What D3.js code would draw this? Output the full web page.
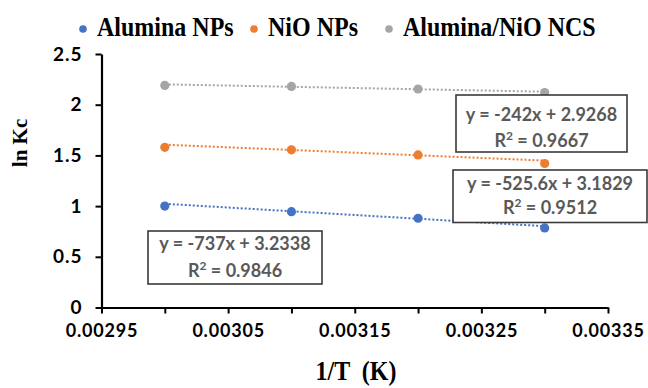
<!DOCTYPE html>
<html>
<head>
<meta charset="utf-8">
<script src="https://cdn.jsdelivr.net/npm/d3@7"></script>
<style>
  html, body { margin: 0; padding: 0; background: #fff; }
  svg { display: block; }
</style>
</head>
<body>
<svg id="chart" width="648" height="388"></svg>
<script>
// Inverse temperature (1/T) and ln Kc for each adsorbent
const invT = [0.0030, 0.0031, 0.0032, 0.0033];
const seriesNames = ["Alumina NPs", "NiO NPs", "Alumina/NiO NCS"];
const aluminaLnKc = [1.00, 0.945, 0.88, 0.785];
const nioLnKc = [1.58, 1.555, 1.505, 1.42];
const compositeLnKc = [2.19, 2.18, 2.155, 2.12];
// Linear fits: ln Kc = slope * (1/T) + intercept
const fitSlopes = [-737, -525.6, -242];
const fitIntercepts = [3.2338, 3.1829, 2.9268];
const fitR2 = [0.9846, 0.9512, 0.9667];
const xTickValues = [0.00295, 0.0030, 0.00305, 0.0031, 0.00315, 0.0032, 0.00325, 0.0033, 0.00335];
const xLabelValues = [0.00295, 0.00305, 0.00315, 0.00325, 0.00335];
const yTickValues = [0, 0.5, 1, 1.5, 2, 2.5];

const colors = ["#4472C4", "#ED7D31", "#A5A5A5"];
const seriesValues = [aluminaLnKc, nioLnKc, compositeLnKc];

const svg = d3.select("#chart");
const x = d3.scaleLinear().domain([0.00295, 0.00335]).range([101.5, 608]);
const y = d3.scaleLinear().domain([0, 2.5]).range([307.5, 54]);

const tickFont = "Lato, 'Liberation Sans', sans-serif";
const serif = "'Liberation Serif', 'Times New Roman', serif";

// Y axis
const yAxis = svg.append("g")
  .attr("transform", `translate(${x(0.00295)},0)`)
  .call(d3.axisLeft(y).tickValues(yTickValues).tickSize(6).tickSizeOuter(0)
    .tickFormat(d => d === 0 ? "0" : String(d)));
// X axis
const xAxis = svg.append("g")
  .attr("transform", `translate(0,${y(0)})`)
  .call(d3.axisBottom(x).tickValues(xTickValues).tickSize(6).tickSizeOuter(0)
    .tickFormat(d => xLabelValues.some(v => Math.abs(v - d) < 1e-9) ? d3.format(".5f")(d) : ""));

[yAxis, xAxis].forEach(g => {
  g.select(".domain").attr("stroke", "#000").attr("stroke-width", 2.2);
  g.selectAll(".tick line").attr("stroke", "#000").attr("stroke-width", 2);
  g.selectAll(".tick text")
    .attr("fill", "#000")
    .style("font-family", tickFont)
    .style("font-weight", "bold");
});
yAxis.selectAll(".tick text").style("font-size", "19px").style("letter-spacing", "1px").attr("x", -19);
xAxis.selectAll(".tick text").style("font-size", "18px").style("letter-spacing", "0.8px").attr("y", 17);

// Trend lines from fitted equations
seriesValues.forEach((vals, i) => {
  const x0 = d3.min(invT), x1 = d3.max(invT);
  svg.append("line")
    .attr("x1", x(x0)).attr("y1", y(fitSlopes[i] * x0 + fitIntercepts[i]))
    .attr("x2", x(x1)).attr("y2", y(fitSlopes[i] * x1 + fitIntercepts[i]))
    .attr("stroke", colors[i])
    .attr("stroke-width", 2)
    .attr("stroke-dasharray", "2,2");
});

// Data points
seriesValues.forEach((vals, i) => {
  svg.append("g").selectAll("circle")
    .data(vals)
    .join("circle")
    .attr("cx", (d, j) => x(invT[j]))
    .attr("cy", d => y(d))
    .attr("r", 4.6)
    .attr("fill", colors[i]);
});

// Equation boxes (line1 / line2 are baseline offsets from the box top)
const boxes = [
  { x: 148, y: 231, w: 174, h: 53, line1: 19, line2: 45.5 },
  { x: 453, y: 170, w: 194, h: 52.5, line1: 20, line2: 43.5 },
  { x: 456, y: 95, w: 171, h: 57, line1: 25.5, line2: 52 }
];
boxes.forEach((b, i) => {
  const g = svg.append("g");
  g.append("rect")
    .attr("x", b.x).attr("y", b.y).attr("width", b.w).attr("height", b.h)
    .attr("fill", "#fff").attr("stroke", "#3a3a3a").attr("stroke-width", 1.6);
  const cx = b.x + b.w / 2;
  const eq = `y = ${fitSlopes[i]}x + ${fitIntercepts[i]}`;
  g.append("text")
    .attr("x", cx).attr("y", b.y + b.line1)
    .attr("text-anchor", "middle")
    .style("font-family", tickFont).style("font-weight", "bold").style("font-size", "18px")
    .attr("fill", "#595959")
    .text(eq);
  const t = g.append("text")
    .attr("x", cx).attr("y", b.y + b.line2)
    .attr("text-anchor", "middle")
    .style("font-family", tickFont).style("font-weight", "bold").style("font-size", "18px")
    .attr("fill", "#595959");
  t.append("tspan").text("R");
  t.append("tspan").attr("dy", -7).style("font-size", "12px").text("2");
  t.append("tspan").attr("dy", 7).text(` = ${fitR2[i]}`);
});

// Legend
const legendX = [83, 254, 389];
seriesNames.forEach((name, i) => {
  svg.append("circle").attr("cx", legendX[i]).attr("cy", 29).attr("r", 3.8).attr("fill", colors[i]);
  svg.append("text")
    .attr("transform", `translate(${legendX[i] + 14},36) scale(1,1.15)`)
    .style("font-family", serif).style("font-weight", "bold").style("font-size", "24px")
    .attr("fill", "#000")
    .text(name);
});

// Axis titles
svg.append("text")
  .attr("transform", "translate(27,143) rotate(-90)")
  .attr("text-anchor", "middle")
  .style("font-family", serif).style("font-weight", "bold").style("font-size", "21px")
  .text("ln Kc");
svg.append("text")
  .attr("transform", "translate(356,380) scale(1,1.15)")
  .attr("text-anchor", "middle")
  .attr("xml:space", "preserve")
  .style("font-family", serif).style("font-weight", "bold").style("font-size", "24px")
  .style("white-space", "pre")
  .text("1/T  (K)");
</script>
</body>
</html>
